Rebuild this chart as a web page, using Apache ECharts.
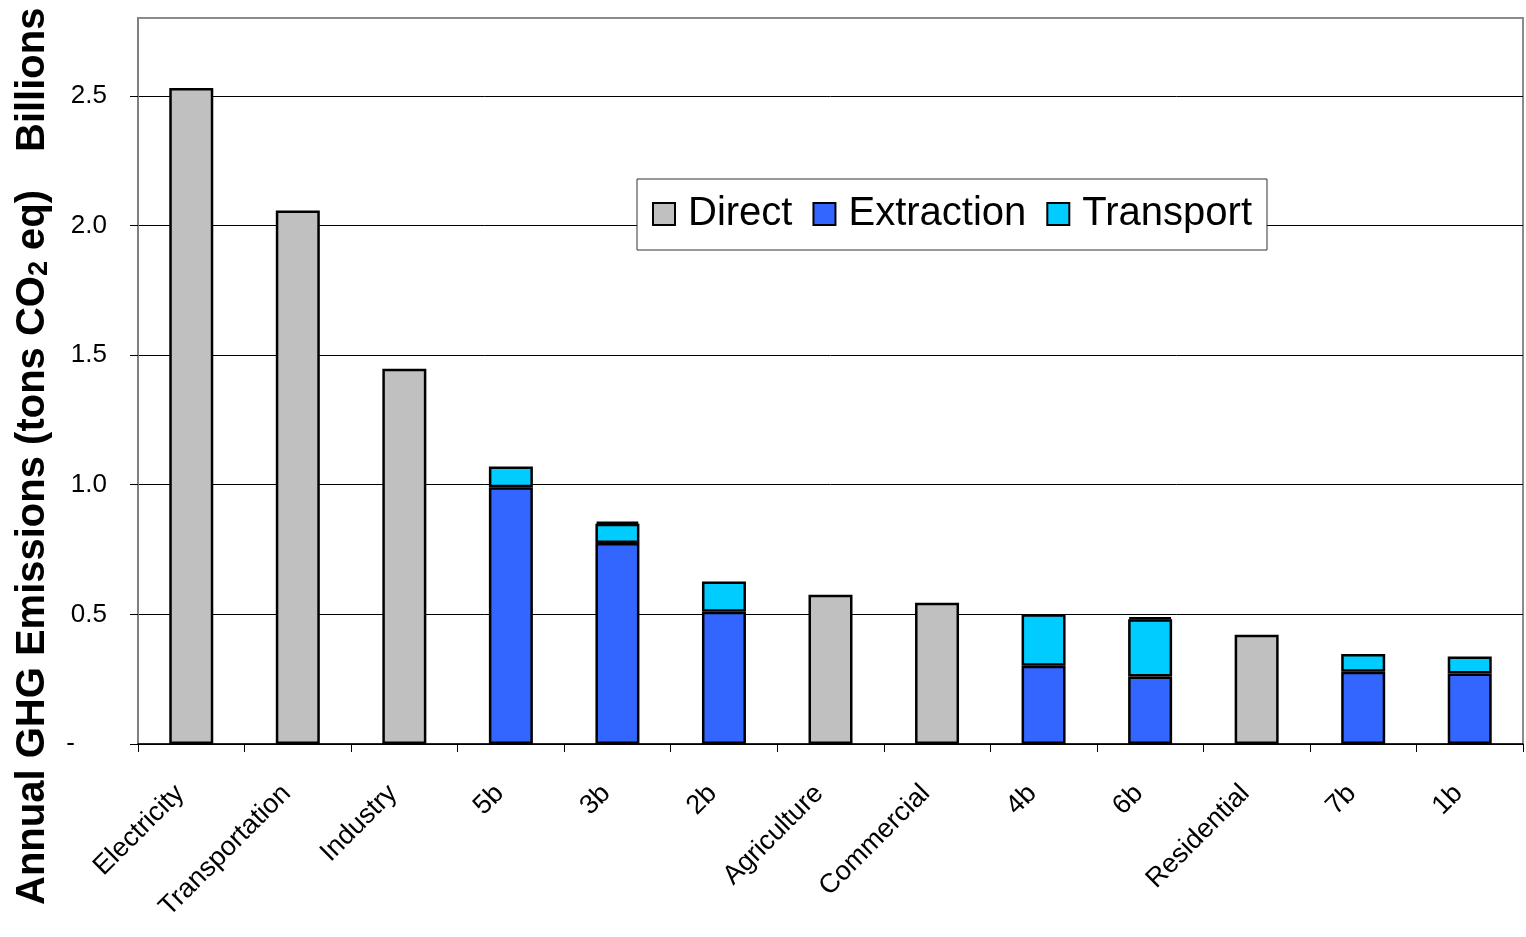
<!DOCTYPE html>
<html>
<head>
<meta charset="utf-8">
<title>Annual GHG Emissions</title>
<script src="https://cdn.jsdelivr.net/npm/echarts@6/dist/echarts.min.js"></script>
<style>
  html, body { margin: 0; padding: 0; background: #fff; }
  #chart { width: 1526px; height: 937px; }
</style>
</head>
<body>
<div id="chart"></div>
<script>
// Sectors and fuel chains, in plotted order
const categories = ['Electricity', 'Transportation', 'Industry', '5b', '3b', '2b',
  'Agriculture', 'Commercial', '4b', '6b', 'Residential', '7b', '1b'];

// Annual emissions, billions of tons CO2 eq
const direct     = [2.53, 2.058, 1.447, null, 0.009, null, 0.576, 0.545, null, 0.008, 0.421, null, null];
const extraction = [null, null, null, 0.99, 0.775, 0.51, null, null, 0.302, 0.26, null, 0.279, 0.272];
const transport  = [null, null, null, 0.08, 0.074, 0.117, null, null, 0.198, 0.221, null, 0.068, 0.065];

const yTicks = [0, 0.5, 1.0, 1.5, 2.0, 2.5];

const FONT = "'Liberation Sans', Arial, sans-serif";

const chart = echarts.init(document.getElementById('chart'));

const barStyle = (color) => ({
  color: color,
  borderColor: '#000',
  borderWidth: 2.5
});

const option = {
  animation: false,
  backgroundColor: '#fff',
  textStyle: { fontFamily: FONT },
  grid: {
    left: 138, right: 3, top: 18, bottom: 193,
    show: true, borderColor: '#8c8c8c', borderWidth: 2, backgroundColor: '#fff'
  },
  legend: {
    data: ['Direct', 'Extraction', 'Transport'],
    left: 637, top: 179,
    orient: 'horizontal',
    padding: [15, 15, 16, 15],
    itemGap: 20,
    itemWidth: 22, itemHeight: 22,
    icon: 'rect',
    borderColor: '#333', borderWidth: 1,
    backgroundColor: '#fff',
    itemStyle: { borderColor: '#000', borderWidth: 2 },
    textStyle: { fontFamily: FONT, fontSize: 40, color: '#000', padding: [0, 0, 0, 8] }
  },
  xAxis: {
    type: 'category',
    data: categories,
    axisLine: { lineStyle: { color: '#000', width: 1.5 } },
    axisTick: { show: true, length: 8, lineStyle: { color: '#000', width: 1 } },
    axisLabel: {
      rotate: 45, margin: 34, interval: 0,
      fontFamily: FONT, fontSize: 27, color: '#000',
      padding: [0, 16, 0, 0]
    }
  },
  yAxis: {
    type: 'value',
    min: 0, max: 2.8, interval: 0.5,
    axisLine: { show: true, lineStyle: { color: '#808080', width: 2 } },
    axisTick: { show: true, length: 8, lineStyle: { color: '#000' }, customValues: yTicks },
    splitLine: { show: true, lineStyle: { color: '#000', width: 1 } },
    axisLabel: {
      customValues: yTicks,
      margin: 31, fontFamily: FONT, fontSize: 26, color: '#000',
      formatter: (v) => v === 0 ? '{d|-}' : v.toFixed(1),
      rich: { d: { fontFamily: FONT, fontSize: 26, color: '#000', padding: [0, 32, 0, 0] } }
    }
  },
  series: [
    { name: 'Extraction', type: 'bar', stack: 'total', barWidth: 44,
      itemStyle: barStyle('#3366FF'), data: extraction },
    { name: 'Transport', type: 'bar', stack: 'total', barWidth: 44,
      itemStyle: barStyle('#00CCFF'), data: transport },
    { name: 'Direct', type: 'bar', stack: 'total', barWidth: 44,
      itemStyle: barStyle('#C0C0C0'), data: direct }
  ],
  graphic: [
    {
      type: 'text', x: 33, y: 905, rotation: Math.PI / 2,
      style: {
        text: '{n|Annual GHG Emissions (tons CO}{s|2}{n| eq)}',
        align: 'left', verticalAlign: 'middle',
        rich: {
          n: { fontFamily: FONT, fontWeight: 'bold', fontSize: 40, fill: '#000', verticalAlign: 'middle' },
          s: { fontFamily: FONT, fontWeight: 'bold', fontSize: 27, fill: '#000', verticalAlign: 'bottom', padding: [14, 0, 0, 0] }
        }
      }
    },
    {
      type: 'text', x: 33, y: 152, rotation: Math.PI / 2,
      style: {
        text: 'Billions',
        align: 'left', verticalAlign: 'middle',
        font: 'bold 40px ' + FONT, fill: '#000'
      }
    }
  ]
};

chart.setOption(option);
</script>
</body>
</html>
